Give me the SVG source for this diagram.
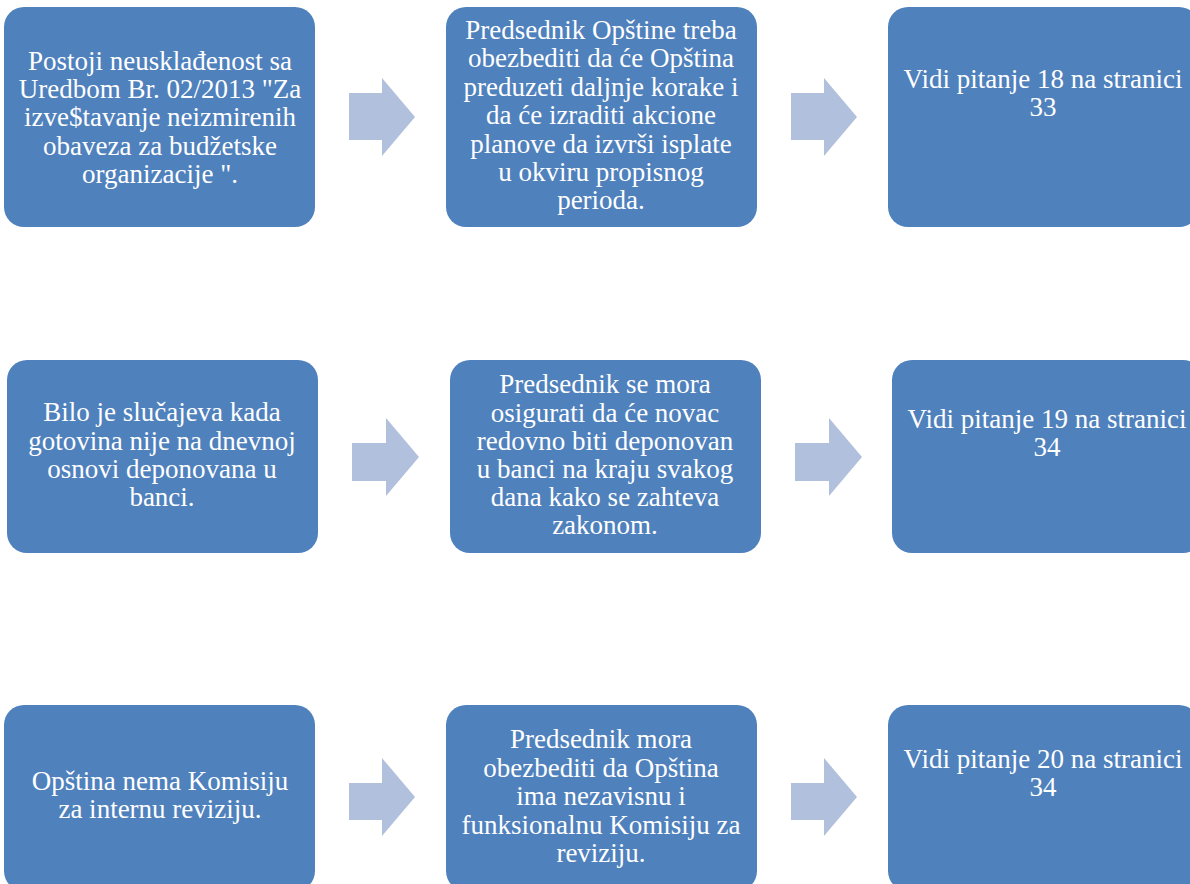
<svg xmlns="http://www.w3.org/2000/svg" width="1190" height="884" viewBox="0 0 1190 884">
<style>
.box{fill:#4F81BD;}
.arr{fill:#B1C0DC;}
text{font-family:"Liberation Serif","Times New Roman",serif;font-size:27px;fill:#FFFFFF;text-anchor:middle;}
</style>
<rect width="1190" height="884" fill="#FFFFFF"/>
<g id="connectors">
<path class="arr" d="M349,93 H382 V78 L415,117 L382,156 V140 H349 Z"/>
<path class="arr" d="M791,93 H824 V78 L857,117 L824,156 V140 H791 Z"/>
<path class="arr" d="M352,443 H386 V418 L419,457 L386,496 V481 H352 Z"/>
<path class="arr" d="M795,443 H829 V418 L862,457 L829,496 V481 H795 Z"/>
<path class="arr" d="M349,783 H382 V758 L415,797 L382,836 V820 H349 Z"/>
<path class="arr" d="M791,783 H824 V758 L857,797 L824,836 V820 H791 Z"/>
</g>
<g id="n1">
<rect class="box" x="4" y="7" width="311" height="220" rx="20"/>
<text x="160"><tspan x="160" y="70">Postoji neusklađenost sa</tspan><tspan x="160" y="98">Uredbom Br. 02/2013 "Za</tspan><tspan x="160" y="126">izve$tavanje neizmirenih</tspan><tspan x="160" y="155">obaveza za budžetske</tspan><tspan x="160" y="183">organizacije ".</tspan></text>
</g>
<g id="n2">
<rect class="box" x="446" y="7" width="311" height="220" rx="20"/>
<text x="601"><tspan x="601" y="39">Predsednik Opštine treba</tspan><tspan x="601" y="67">obezbediti da će Opština</tspan><tspan x="601" y="96">preduzeti daljnje korake i</tspan><tspan x="601" y="124">da će izraditi akcione</tspan><tspan x="601" y="153">planove da izvrši isplate</tspan><tspan x="601" y="181">u okviru propisnog</tspan><tspan x="601" y="209">perioda.</tspan></text>
</g>
<g id="n3">
<rect class="box" x="888" y="7" width="311" height="220" rx="20"/>
<text x="1043"><tspan x="1043" y="88">Vidi pitanje 18 na stranici</tspan><tspan x="1043" y="116">33</tspan></text>
</g>
<g id="n4">
<rect class="box" x="7" y="360" width="311" height="193" rx="20"/>
<text x="162"><tspan x="162" y="421">Bilo je slučajeva kada</tspan><tspan x="162" y="450">gotovina nije na dnevnoj</tspan><tspan x="162" y="478">osnovi deponovana u</tspan><tspan x="162" y="506">banci.</tspan></text>
</g>
<g id="n5">
<rect class="box" x="450" y="360" width="311" height="193" rx="20"/>
<text x="605"><tspan x="605" y="393">Predsednik se mora</tspan><tspan x="605" y="422">osigurati da će novac</tspan><tspan x="605" y="450">redovno biti deponovan</tspan><tspan x="605" y="478">u banci na kraju svakog</tspan><tspan x="605" y="506">dana kako se zahteva</tspan><tspan x="605" y="534">zakonom.</tspan></text>
</g>
<g id="n6">
<rect class="box" x="892" y="360" width="311" height="193" rx="20"/>
<text x="1047"><tspan x="1047" y="428">Vidi pitanje 19 na stranici</tspan><tspan x="1047" y="456">34</tspan></text>
</g>
<g id="n7">
<rect class="box" x="4" y="705" width="311" height="186" rx="20"/>
<text x="160"><tspan x="160" y="790">Opština nema Komisiju</tspan><tspan x="160" y="818">za internu reviziju.</tspan></text>
</g>
<g id="n8">
<rect class="box" x="446" y="705" width="311" height="186" rx="20"/>
<text x="601"><tspan x="601" y="748">Predsednik mora</tspan><tspan x="601" y="777">obezbediti da Opština</tspan><tspan x="601" y="805">ima nezavisnu i</tspan><tspan x="601" y="834">funksionalnu Komisiju za</tspan><tspan x="601" y="862">reviziju.</tspan></text>
</g>
<g id="n9">
<rect class="box" x="888" y="705" width="311" height="186" rx="20"/>
<text x="1043"><tspan x="1043" y="768">Vidi pitanje 20 na stranici</tspan><tspan x="1043" y="796">34</tspan></text>
</g>
</svg>
